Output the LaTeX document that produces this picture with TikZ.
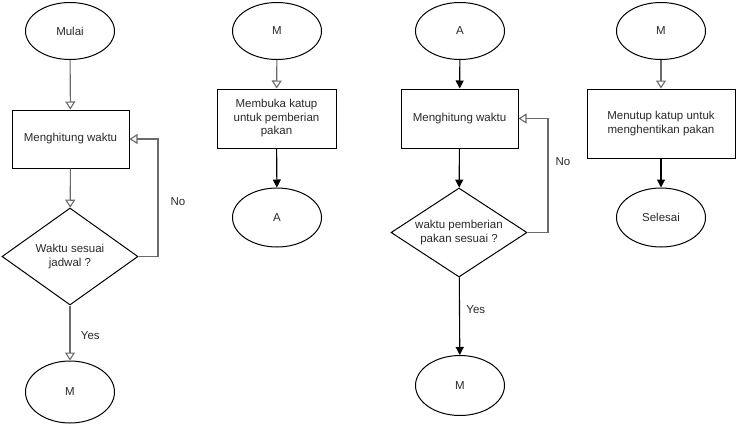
\documentclass[tikz,border=0pt]{standalone}
\usepackage{fontspec}
\setmainfont{Liberation Sans}
\usetikzlibrary{arrows.meta,shapes.geometric}
\definecolor{txt}{HTML}{2A2A2A}
\definecolor{conn}{HTML}{6A6A6A}
\begin{document}
\begin{tikzpicture}[x=1pt,y=-1pt,
  every node/.style={font=\fontsize{11.5}{13.5}\selectfont,text=txt},
  term/.style={draw=black,line width=1pt,ellipse,minimum width=89pt,minimum height=57pt,inner sep=0pt},
  proc/.style={draw=black,line width=1pt,rectangle,minimum width=117pt,minimum height=58pt,align=center,inner sep=2pt},
  dec/.style={draw=black,line width=1pt,diamond,aspect=1.4,inner sep=0pt,align=center},
  openarr/.style={draw=conn,line width=1.1pt,-{Triangle[open,length=8pt,width=10pt]}},
  fillarr/.style={draw=black,line width=1.1pt,-{Triangle[length=8pt,width=8pt]}},
  lbl/.style={font=\fontsize{11.5}{13.5}\selectfont}]
\useasboundingbox (0,0) rectangle (736,426);
\fill[white] (0,0) rectangle (736,426);

% first column: counting time until the schedule
\node[term] (mulai) at (70,31) {Mulai};
\node[proc] (hit1) at (70.5,139) {Menghitung waktu};
\node[dec,minimum width=136pt,minimum height=97pt] (cek1) at (70,256.5) {Waktu sesuai\\jadwal ?};
\node[term,minimum height=62pt] (m1) at (70,392) {M};
\coordinate (loop1) at (158,0);
\draw[openarr] (mulai) -- (hit1);
\draw[openarr] (hit1) -- (cek1);
\draw[openarr] (cek1) -- (m1) node[lbl,pos=0.55,right=7pt] {Yes};
\draw[openarr] (cek1.east) -- (loop1 |- cek1.east) -- (loop1 |- hit1.east) -- (hit1.east);
\node[lbl] (no1) at (178,202) {No};

% second column: opening the valve
\node[term] (m2) at (277,31) {M};
\node[proc,minimum width=119pt,minimum height=59pt] (buka) at (276.5,118.5) {Membuka katup\\untuk pemberian\\pakan};
\node[term,minimum height=59pt] (a2) at (277,217.5) {A};
\draw[openarr] (m2) -- (buka);
\draw[fillarr] (buka) -- (a2);

% third column: counting time until the feeding time
\node[term] (a3) at (460,31) {A};
\node[proc,minimum height=59pt] (hit2) at (459.5,118.5) {Menghitung waktu};
\node[dec,minimum width=136pt,minimum height=89pt] (cek2) at (459,232.5) {waktu pemberian\\pakan sesuai ?};
\node[term,minimum height=60pt] (m3) at (460,385.5) {M};
\coordinate (loop2) at (548,0);
\draw[fillarr] (a3) -- (hit2);
\draw[fillarr] (hit2) -- (cek2);
\draw[fillarr] (cek2) -- (m3) node[lbl,pos=0.42,right=3pt] {Yes};
\draw[openarr] (cek2.east) -- (loop2 |- cek2.east) -- (loop2 |- hit2.east) -- (hit2.east);
\node[lbl] (no2) at (563,162) {No};

% fourth column: closing the valve
\node[term] (m4) at (661,31) {M};
\node[proc,minimum width=148pt,minimum height=69pt] (tutup) at (661,123.5) {Menutup katup untuk\\menghentikan pakan};
\node[term,minimum height=59pt] (selesai) at (661,217.5) {Selesai};
\draw[openarr] (m4) -- (tutup);
\draw[fillarr] (tutup) -- (selesai);
\end{tikzpicture}
\end{document}
